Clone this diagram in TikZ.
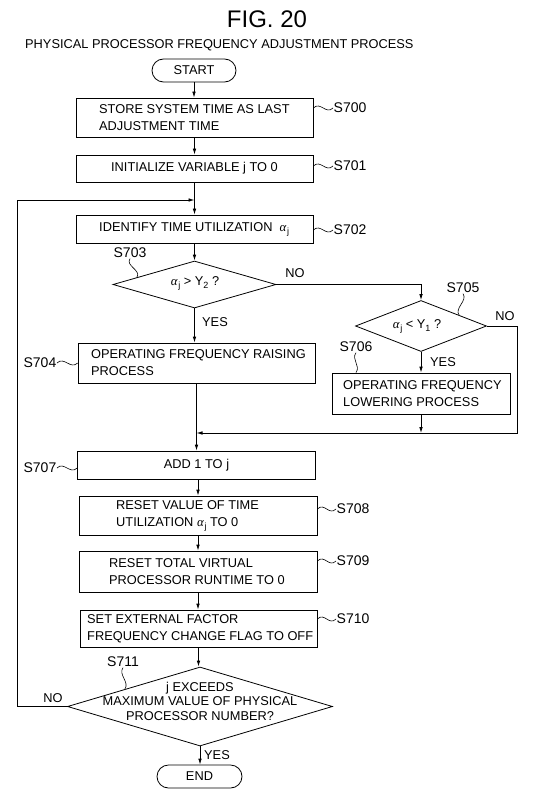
\documentclass[tikz,border=0pt]{standalone}
\usepackage{fontspec}
\setmainfont{Liberation Sans}
\newfontfamily\grkfont{Liberation Serif}
\usetikzlibrary{shapes.geometric,arrows.meta}
\newcommand\myalj{{\grkfont\itshape α}\kern0.8pt\raisebox{-0.45ex}{\fontsize{9}{9}\selectfont j}}
\newcommand\mysub[1]{\raisebox{-0.45ex}{\fontsize{9}{9}\selectfont #1}}
\begin{document}
\begin{tikzpicture}[x=1pt,y=-1pt,
  box/.style={draw, line width=0.8pt, inner sep=0pt, font=\fontsize{12.8}{17}\selectfont},
  txt/.style={inner sep=0pt, align=left, font=\fontsize{12.8}{17}\selectfont},
  lab/.style={inner sep=0.5pt, font=\fontsize{14}{14}\selectfont},
  yn/.style={inner sep=0pt, font=\fontsize{12.8}{13}\selectfont},
  dia/.style={draw, diamond, inner sep=0pt, line width=0.8pt},
  term/.style={draw, rounded corners=11.5pt, inner sep=0pt, minimum width=84, minimum height=23, line width=0.8pt, font=\fontsize{12.8}{13}\selectfont},
  arr/.style={-{Latex[length=6pt,width=3.6pt]}, line width=0.8pt},
  lnk/.style={line width=0.8pt},
  til/.style={line width=0.6pt}]
\useasboundingbox (0,0) rectangle (546,794);

% titles
\node[inner sep=0pt, font=\fontsize{24}{24}\selectfont] (fig) at (267,19) {FIG. 20};
\node[inner sep=0pt, anchor=west, font=\fontsize{12.8}{13}\selectfont] (title) at (25,45) {PHYSICAL PROCESSOR FREQUENCY ADJUSTMENT PROCESS};

% nodes
\node[term] (start) at (194,70.5) {START};
\node[box, minimum width=237, minimum height=39] (b700) at (194.5,117.5) {};
\node[txt, anchor=west] (t700) at (99,117.5) {STORE SYSTEM TIME AS LAST\\ADJUSTMENT TIME};
\node[box, minimum width=237, minimum height=27] (b701) at (194.5,168.5) {INITIALIZE VARIABLE j TO 0};
\node[box, minimum width=237, minimum height=28] (b702) at (194.5,229) {};
\node[txt, anchor=west] (t702) at (99,229) {IDENTIFY TIME UTILIZATION\ \ \myalj};
\node[dia, minimum width=163, minimum height=47] (d703) at (194.5,284.5) {};
\node[txt] (t703) at (195,283) {\myalj\ > Y\mysub{2} ?};
\node[dia, minimum width=131, minimum height=51] (d705) at (421,326) {};
\node[txt] (t705) at (417,326) {\myalj\ < Y\mysub{1} ?};
\node[box, minimum width=237, minimum height=40] (b704) at (196.5,363) {};
\node[txt, anchor=west] (t704) at (91,363) {OPERATING FREQUENCY RAISING\\PROCESS};
\node[box, minimum width=178, minimum height=41] (b706) at (421,393.5) {};
\node[txt, anchor=west] (t706) at (343,393.5) {OPERATING FREQUENCY\\LOWERING PROCESS};
\node[box, minimum width=238, minimum height=28] (b707) at (196.5,465) {ADD 1 TO j};
\node[box, minimum width=238, minimum height=39] (b708) at (198,515.5) {};
\node[txt, anchor=west] (t708) at (116,515.5) {RESET VALUE OF TIME\\UTILIZATION\ \myalj\ TO 0};
\node[box, minimum width=238, minimum height=41] (b709) at (198,571.5) {};
\node[txt, anchor=west] (t709) at (109,571.5) {RESET TOTAL VIRTUAL\\PROCESSOR RUNTIME TO 0};
\node[box, minimum width=237, minimum height=37] (b710) at (198.5,628.5) {};
\node[txt, anchor=west] (t710) at (87,628.5) {SET EXTERNAL FACTOR\\FREQUENCY CHANGE FLAG TO OFF};
\node[dia, minimum width=265, minimum height=79] (d711) at (200,706.5) {};
\node[txt, align=center, font=\fontsize{12.8}{14.5}\selectfont] (t711) at (200,701) {j EXCEEDS\\MAXIMUM VALUE OF PHYSICAL\\PROCESSOR NUMBER?};
\node[term, minimum width=85] (end) at (199.5,776.5) {END};

% step labels
\node[lab, anchor=west] (l700) at (333,108) {S700};
\node[lab, anchor=west] (l701) at (333,166) {S701};
\node[lab, anchor=west] (l702) at (333,230) {S702};
\node[lab] (l703) at (130,253) {S703};
\node[lab, anchor=east] (l704) at (57,363) {S704};
\node[lab] (l705) at (463,288) {S705};
\node[lab] (l706) at (356,347) {S706};
\node[lab, anchor=east] (l707) at (57,468) {S707};
\node[lab, anchor=west] (l708) at (336,509) {S708};
\node[lab, anchor=west] (l709) at (336,561) {S709};
\node[lab, anchor=west] (l710) at (336,619) {S710};
\node[lab] (l711) at (123,662) {S711};

% yes/no labels
\node[yn] (no703) at (295,273) {NO};
\node[yn] (yes703) at (215,322) {YES};
\node[yn] (no705) at (505,316) {NO};
\node[yn] (yes705) at (443,362) {YES};
\node[yn] (no711) at (53,698) {NO};
\node[yn] (yes711) at (217,755) {YES};

% tilde leaders
\draw[til] (b700.east |- l700.west) .. controls +(7,-7) and +(-7,7) .. (l700.west);
\draw[til] (b701.east |- l701.west) .. controls +(7,-7) and +(-7,7) .. (l701.west);
\draw[til] (b702.east |- l702.west) .. controls +(7,-7) and +(-7,7) .. (l702.west);
\draw[til] (l704.east) .. controls +(7,-7) and +(-7,7) .. (b704.west |- l704.east);
\draw[til] (l707.east) .. controls +(7,-7) and +(-7,7) .. (b707.west |- l707.east);
\draw[til] (b708.east |- l708.west) .. controls +(7,-7) and +(-7,7) .. (l708.west);
\draw[til] (b709.east |- l709.west) .. controls +(7,-7) and +(-7,7) .. (l709.west);
\draw[til] (b710.east |- l710.west) .. controls +(7,-7) and +(-7,7) .. (l710.west);
\draw[til] (l703.south) .. controls +(-5,7) and +(5,-7) .. (d703.173);
\draw[til] (l705.south) .. controls +(5,7) and +(-5,-7) .. (d705.16);
\draw[til] (l706.south) .. controls +(-5,7) and +(5,-7) .. (l706.south |- b706.north);
\draw[til] (l711.south) .. controls +(-5,7) and +(5,-7) .. (d711.167);

% coordinates
\coordinate (loopx) at (17,200);
\coordinate (loopin) at (194.5,200);
\coordinate (merge) at (196.5,433);
\coordinate (rx) at (517,433);

% connectors
\draw[arr] (start.south) -- (start.south |- b700.north);
\draw[arr] (b700) -- (b701);
\draw[arr] (b701) -- (b702);
\draw[arr] (b702) -- (d703);
\draw[arr] (d703.south) -- (d703.south |- b704.north);
\draw[arr] (d703.east) -| (d705.north);
\draw[arr] (d705.south) -- (b706.north);
\draw[arr] (d705.east) -| (rx) -- (merge);
\draw[arr] (b706.south) -- (b706.south |- merge);
\draw[arr] (b704.south) -- (b707.north);
\draw[arr] (b707.south -| b708.north) -- (b708.north);
\draw[arr] (b708) -- (b709);
\draw[arr] (b709.south) -- (b709.south |- b710.north);
\draw[arr] (b710.south) -- (b710.south |- d711.north);
\draw[arr] (d711.south) -- (d711.south |- end.north);
\draw[arr] (d711.west) -| (loopx) -- (loopin);
\end{tikzpicture}
\end{document}
